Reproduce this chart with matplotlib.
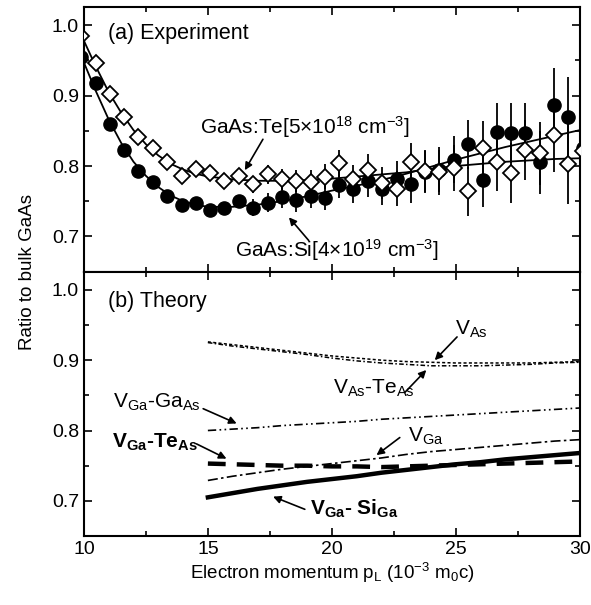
import numpy as np
import matplotlib
matplotlib.use("Agg")
import matplotlib.pyplot as plt

plt.rcParams['font.family'] = ['Liberation Sans', 'DejaVu Sans']
plt.rcParams['mathtext.default'] = 'regular'

# (a) Experiment: momentum grid and measured ratios
p_exp = [9.89, 10.47, 11.05, 11.63, 12.20, 12.78, 13.36, 13.94, 14.52, 15.09,
         15.67, 16.25, 16.83, 17.41, 17.98, 18.56, 19.14, 19.72, 20.30, 20.87,
         21.45, 22.03, 22.61, 23.19, 23.76, 24.34, 24.92, 25.50, 26.08, 26.65,
         27.23, 27.81, 28.39, 28.97, 29.54, 30.12]
ratio_si = [0.955, 0.918, 0.860, 0.823, 0.793, 0.777, 0.757, 0.745, 0.748, 0.737,
            0.740, 0.750, 0.741, 0.748, 0.756, 0.751, 0.758, 0.755, 0.773, 0.768,
            0.778, 0.767, 0.782, 0.775, 0.792, 0.795, 0.809, 0.831, 0.780, 0.849,
            0.847, 0.847, 0.805, 0.887, 0.870, 0.825]
ratio_te = [0.985, 0.947, 0.902, 0.870, 0.841, 0.825, 0.805, 0.786, 0.796, 0.790,
            0.778, 0.786, 0.774, 0.788, 0.781, 0.779, 0.777, 0.785, 0.804, 0.782,
            0.795, 0.776, 0.768, 0.805, 0.793, 0.791, 0.797, 0.764, 0.826, 0.805,
            0.790, 0.823, 0.818, 0.844, 0.803, 0.821]
err = [0.005, 0.005, 0.005, 0.005, 0.005, 0.005, 0.005, 0.005, 0.005, 0.005,
       0.005, 0.006, 0.012, 0.013, 0.015, 0.016, 0.017, 0.018, 0.019, 0.020,
       0.022, 0.023, 0.025, 0.027, 0.030, 0.032, 0.033, 0.035, 0.038, 0.040,
       0.043, 0.043, 0.045, 0.053, 0.057, 0.058]

# smooth fit curves through the experimental points
p_fit = [10.0, 10.5, 11.0, 11.5, 12.0, 12.5, 13.0, 13.5, 14.0, 14.5, 15.0, 16.0,
         17.0, 18.0, 19.0, 20.0, 21.0, 22.0, 23.0, 24.0, 25.0, 26.0, 27.0, 28.0,
         29.0, 30.0]
fit_si = [0.947, 0.905, 0.866, 0.833, 0.806, 0.786, 0.770, 0.758, 0.750, 0.745,
          0.742, 0.742, 0.745, 0.750, 0.757, 0.765, 0.772, 0.780, 0.789, 0.799,
          0.809, 0.818, 0.827, 0.835, 0.843, 0.851]
fit_te = [0.978, 0.940, 0.905, 0.876, 0.851, 0.831, 0.815, 0.803, 0.795, 0.789,
          0.785, 0.781, 0.779, 0.779, 0.780, 0.782, 0.785, 0.788, 0.791, 0.796,
          0.800, 0.803, 0.806, 0.808, 0.810, 0.811]

# (b) Theory curves
p_th = [15, 16, 17, 18, 19, 20, 21, 22, 23, 24, 25, 26, 27, 28, 29, 30]
v_as = [0.926, 0.922, 0.918, 0.914, 0.910, 0.906, 0.903, 0.900, 0.898, 0.897,
        0.896, 0.896, 0.896, 0.896, 0.897, 0.898]
v_as_te = [0.925, 0.920, 0.916, 0.912, 0.908, 0.903, 0.899, 0.896, 0.894, 0.892,
           0.892, 0.892, 0.893, 0.894, 0.896, 0.897]
v_ga_ga = [0.800, 0.802, 0.804, 0.807, 0.809, 0.811, 0.813, 0.816, 0.818, 0.820,
           0.822, 0.824, 0.826, 0.828, 0.830, 0.832]
v_ga_te = [0.753, 0.752, 0.751, 0.750, 0.750, 0.749, 0.749, 0.748, 0.749, 0.750,
           0.751, 0.752, 0.753, 0.754, 0.755, 0.756]
v_ga = [0.729, 0.735, 0.740, 0.745, 0.749, 0.753, 0.757, 0.761, 0.766, 0.770,
        0.773, 0.776, 0.779, 0.782, 0.785, 0.787]
v_ga_si = [0.705, 0.711, 0.717, 0.722, 0.727, 0.731, 0.735, 0.740, 0.744, 0.748,
           0.752, 0.755, 0.759, 0.762, 0.765, 0.768]

fig = plt.figure(figsize=(5.91, 6.05), dpi=100)
ax1 = fig.add_axes([0.142, 0.5512, 0.839, 0.4372])
ax2 = fig.add_axes([0.142, 0.1140, 0.839, 0.4372])

for ax in (ax1, ax2):
    ax.set_xlim(10, 30)
    ax.set_ylim(0.65, 1.026)
    ax.set_xticks([10, 15, 20, 25, 30])
    ax.set_xticks(np.arange(10, 30.1, 2.5), minor=True)
    ax.set_yticks([0.7, 0.8, 0.9, 1.0])
    ax.set_yticks([0.75, 0.85, 0.95], minor=True)
    ax.tick_params(which='both', direction='in', top=True, right=True,
                   labelsize=14, width=1.2)
    ax.tick_params(which='major', length=6)
    ax.tick_params(which='minor', length=3.5)
    ax.yaxis.set_major_formatter(matplotlib.ticker.FormatStrFormatter('%.1f'))
    for s in ax.spines.values():
        s.set_linewidth(1.5)

ax1.tick_params(labelbottom=False)

# top panel
ax1.errorbar(p_exp, ratio_si, yerr=err, fmt='none', ecolor='black',
             elinewidth=1.3, capsize=0, zorder=1)
ax1.errorbar(p_exp, ratio_te, yerr=err, fmt='none', ecolor='black',
             elinewidth=1.3, capsize=0, zorder=1)
ax1.plot(p_fit, fit_si, color='black', lw=1.3, zorder=2)
ax1.plot(p_fit, fit_te, color='black', lw=1.3, zorder=2)
ax1.plot(p_exp, ratio_si, 'o', color='black', ms=9.5, zorder=3)
ax1.plot(p_exp, ratio_te, 'D', mfc='white', mec='black', mew=1.3, ms=8,
         zorder=4)

ax1.text(0.048, 0.90, '(a) Experiment', transform=ax1.transAxes,
         fontsize=15.5, va='center', ha='left')

arrow = dict(arrowstyle='-|>', color='black', lw=1.2, mutation_scale=11,
             shrinkA=0, shrinkB=0)
ax1.text(14.7, 0.855, 'GaAs:Te[5$\\times$10$^{18}$ cm$^{-3}$]', fontsize=15,
         va='center', ha='left')
ax1.annotate('', xy=(16.49, 0.794), xytext=(17.22, 0.838), arrowprops=arrow)
ax1.text(16.1, 0.681, 'GaAs:Si[4$\\times$10$^{19}$ cm$^{-3}$]', fontsize=15,
         va='center', ha='left')
ax1.annotate('', xy=(18.27, 0.727), xytext=(19.07, 0.694), arrowprops=arrow)

# bottom panel
ax2.plot(p_th, v_as, color='black', lw=1.1, ls=(0, (2, 1.5)))
ax2.plot(p_th, v_as_te, color='black', lw=1.1, ls=(0, (3, 1.5, 1, 1.5)))
ax2.plot(p_th, v_ga_ga, color='black', lw=1.2,
         ls=(0, (5, 2, 1, 2, 1, 2)))
ax2.plot(p_th, v_ga_te, color='black', lw=3.2, ls=(0, (4, 2.5)))
ax2.plot(p_th, v_ga, color='black', lw=1.2, ls=(0, (6, 2, 1.5, 2)))
ax2.plot(p_th, v_ga_si, color='black', lw=3.2)

ax2.text(0.048, 0.888, '(b) Theory', transform=ax2.transAxes,
         fontsize=15.5, va='center', ha='left')

ax2.text(24.98, 0.944, 'V$_{As}$', fontsize=15, va='center', ha='left')
ax2.annotate('', xy=(24.15, 0.900), xytext=(25.05, 0.933), arrowprops=arrow)
ax2.text(20.05, 0.860, 'V$_{As}$-Te$_{As}$', fontsize=15, va='center',
         ha='left')
ax2.annotate('', xy=(23.81, 0.886), xytext=(22.94, 0.854), arrowprops=arrow)
ax2.text(11.17, 0.840, 'V$_{Ga}$-Ga$_{As}$', fontsize=15, va='center',
         ha='left')
ax2.annotate('', xy=(16.16, 0.810), xytext=(14.81, 0.831), arrowprops=arrow)
ax2.text(11.13, 0.783, 'V$_{Ga}$-Te$_{As}$', fontsize=15, va='center',
         ha='left', fontweight='bold')
ax2.annotate('', xy=(15.75, 0.760), xytext=(14.54, 0.781), arrowprops=arrow)
ax2.text(23.06, 0.791, 'V$_{Ga}$', fontsize=15, va='center', ha='left')
ax2.annotate('', xy=(21.8, 0.765), xytext=(22.74, 0.790), arrowprops=arrow)
ax2.text(19.11, 0.689, 'V$_{Ga}$- Si$_{Ga}$', fontsize=15, va='center',
         ha='left', fontweight='bold')
ax2.annotate('', xy=(17.63, 0.706), xytext=(18.91, 0.688), arrowprops=arrow)

ax2.set_xlabel('Electron momentum p$_L$ (10$^{-3}$ m$_0$c)', fontsize=13.5,
               labelpad=2)
fig.text(0.046, 0.55, 'Ratio to bulk GaAs', rotation=90, fontsize=13.5,
         va='center', ha='center')

fig.savefig('out.png', dpi=100)
